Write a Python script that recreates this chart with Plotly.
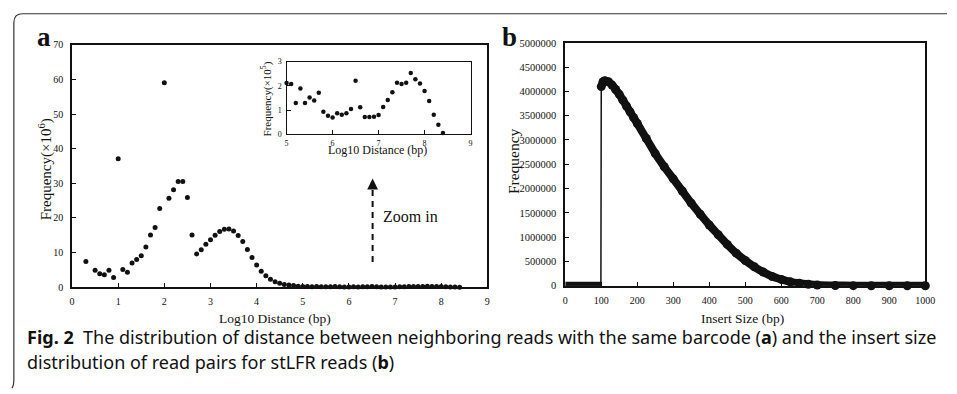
import plotly.graph_objects as go

W, H = 957, 394

# ---------------- data: panel a (main) ----------------
dist_x = [0.3, 0.5, 0.6, 0.7, 0.8, 0.9, 1.0, 1.1, 1.2, 1.3, 1.4, 1.5, 1.6, 1.7, 1.8, 1.9,
          2.0, 2.1, 2.2, 2.3, 2.4, 2.5, 2.6, 2.7, 2.8, 2.9, 3.0, 3.1, 3.2, 3.3, 3.4, 3.5,
          3.6, 3.7, 3.8, 3.9, 4.0, 4.1, 4.2, 4.3, 4.4, 4.5, 4.6, 4.7, 4.8, 4.9]
dist_freq_e6 = [7.4, 4.9, 3.9, 3.6, 4.9, 2.8, 37.1, 5.1, 4.3, 7.0, 8.0, 9.1, 11.6, 15.1, 17.2, 22.7,
                59.0, 25.7, 28.1, 30.5, 30.5, 25.9, 15.1, 9.6, 10.8, 12.4, 13.7, 15.0, 16.1, 16.7, 16.8, 16.2,
                14.9, 13.2, 10.9, 8.6, 6.4, 4.6, 3.3, 2.3, 1.6, 1.1, 0.8, 0.6, 0.45, 0.3]

# ---------------- data: panel a (inset, x10^5) ----------------
inset_x = [5.0, 5.1, 5.2, 5.3, 5.4, 5.5, 5.6, 5.7, 5.8, 5.9, 6.0, 6.1, 6.2, 6.3, 6.4, 6.5, 6.6, 6.7,
           6.8, 6.9, 7.0, 7.1, 7.2, 7.3, 7.4, 7.5, 7.6, 7.7, 7.8, 7.9, 8.0, 8.1, 8.2, 8.3, 8.4]
inset_freq_e5 = [2.12, 2.07, 1.29, 1.89, 1.29, 1.52, 1.39, 1.71, 0.93, 0.76, 0.69, 0.87, 0.81, 0.87,
                 1.04, 2.21, 1.11, 0.71, 0.71, 0.72, 0.79, 1.12, 1.41, 1.73, 2.13, 2.07, 2.13, 2.53,
                 2.27, 2.09, 1.79, 1.37, 0.80, 0.39, 0.05]

# ---------------- data: panel b ----------------
insert_x = [0, 25, 50, 75, 99, 100, 105, 110, 120, 130, 140, 150, 160, 170, 180, 190, 200, 225, 250,
            275, 300, 325, 350, 375, 400, 425, 450, 475, 500, 525, 550, 575, 600, 625, 650, 675,
            700, 750, 800, 850, 900, 950, 1000]
insert_freq = [0, 0, 0, 0, 0, 4100000, 4200000, 4220000, 4200000, 4130000, 4040000, 3940000, 3820000,
               3700000, 3580000, 3460000, 3340000, 3030000, 2720000, 2450000, 2200000, 1950000,
               1700000, 1470000, 1250000, 1050000, 850000, 670000, 520000, 390000, 280000, 190000,
               130000, 80000, 50000, 30000, 15000, 4000, 1000, 0, 0, 0, 0]

a_xticks = [0, 1, 2, 3, 4, 5, 6, 7, 8, 9]
a_yticks = [0, 10, 20, 30, 40, 50, 60, 70]
inset_xticks = [5, 6, 7, 8, 9]
inset_yticks = [0, 1, 2, 3]
b_xticks = list(range(0, 1001, 100))
b_yticks = list(range(0, 5000001, 500000))

# combine main series (inset values converted from x10^5 to x10^6)
main_x = dist_x + inset_x
main_y = dist_freq_e6 + [v / 10 for v in inset_freq_e5]


def px(x):
    return x / W


def py(y):
    return 1 - y / H


SERIF = "Liberation Serif, Times New Roman, serif"
BLACK = "#111111"

fig = go.Figure()

fig.add_trace(go.Scatter(x=main_x, y=main_y, mode="markers", xaxis="x", yaxis="y",
                         marker=dict(color=BLACK, size=5), cliponaxis=False, showlegend=False))
fig.add_trace(go.Scatter(x=inset_x, y=inset_freq_e5, mode="markers", xaxis="x2", yaxis="y2",
                         marker=dict(color=BLACK, size=4.5), cliponaxis=False, showlegend=False))

# panel b: thin connecting line (shows jump at 100), thick curve segments
fig.add_trace(go.Scatter(x=insert_x, y=insert_freq, mode="lines", xaxis="x3", yaxis="y3",
                         line=dict(color=BLACK, width=1.5), cliponaxis=False, showlegend=False))
zx = [x for x, y in zip(insert_x, insert_freq) if x < 100]
zy = [y for x, y in zip(insert_x, insert_freq) if x < 100]
cx = [x for x in insert_x if x >= 100]
cy = [y for x, y in zip(insert_x, insert_freq) if x >= 100]
fig.add_trace(go.Scatter(x=zx, y=zy, mode="lines", xaxis="x3", yaxis="y3",
                         line=dict(color=BLACK, width=8),
                         cliponaxis=False, showlegend=False))
fig.add_trace(go.Scatter(x=cx, y=cy, mode="lines+markers", xaxis="x3", yaxis="y3",
                         line=dict(color=BLACK, width=8, shape="spline", smoothing=0.6),
                         marker=dict(color=BLACK, size=9),
                         cliponaxis=False, showlegend=False))

axis_common = dict(showline=True, mirror=True, linecolor=BLACK, showgrid=False, zeroline=False,
                   ticks="inside", tickcolor=BLACK, ticklen=4)

fig.update_layout(
    width=W, height=H, autosize=False,
    margin=dict(l=0, r=0, t=0, b=0),
    paper_bgcolor="white", plot_bgcolor="white",
    showlegend=False, hovermode=False,
    xaxis=dict(domain=[px(70), px(491)], range=[0, 9], tickvals=a_xticks, anchor="y",
               linewidth=1.6, ticklabelstandoff=4,
               tickfont=dict(family=SERIF, size=10, color=BLACK), **axis_common),
    yaxis=dict(domain=[py(290), py(40)], range=[0, 70], tickvals=a_yticks, anchor="x",
               linewidth=1.6, ticklabelstandoff=5,
               tickfont=dict(family=SERIF, size=10, color=BLACK), **axis_common),
    xaxis2=dict(domain=[px(287.5), px(474)], range=[5, 9], tickvals=inset_xticks, anchor="y2",
                linewidth=1.4, ticklabelstandoff=1,
                tickfont=dict(family=SERIF, size=8, color=BLACK), **axis_common),
    yaxis2=dict(domain=[py(132.3), py(57.3)], range=[0, 3], tickvals=inset_yticks, anchor="x2",
                linewidth=1.4, ticklabelstandoff=2,
                tickfont=dict(family=SERIF, size=8, color=BLACK), **axis_common),
    xaxis3=dict(domain=[px(570), px(935)], range=[0, 1000], tickvals=b_xticks, anchor="y3",
                linewidth=1.6, ticklabelstandoff=4,
                tickfont=dict(family=SERIF, size=10, color=BLACK), **axis_common),
    yaxis3=dict(domain=[py(288.5), py(38)], range=[0, 5000000], tickvals=b_yticks, anchor="x3",
                tickformat="d", linewidth=1.6, ticklabelstandoff=5,
                tickfont=dict(family=SERIF, size=10.5, color=BLACK), **axis_common),
)

ann = []


def text(x, y, s, size, family=SERIF, angle=0, xanchor="center", yanchor="middle", bold=False):
    ann.append(dict(x=px(x), y=py(y), xref="paper", yref="paper", text=(f"<b>{s}</b>" if bold else s),
                    showarrow=False, textangle=angle, xanchor=xanchor, yanchor=yanchor,
                    font=dict(family=family, size=size, color=BLACK)))


text(42, 32, "a", 27, bold=True)
text(513, 32, "b", 27, bold=True)
text(276, 322, "Log10 Distance (bp)", 13.5)
text(750, 322, "Insert Size (bp)", 13.5)
text(43, 168, "Frequency(×10<sup>6</sup>)", 15, angle=-90)
text(517, 160, "Frequency", 15.5, angle=-90)
text(267, 96, "Frequency(×10<sup>5</sup>)", 11, angle=-90)
text(380, 149, "Log10 Distance (bp)", 12)
text(383, 217, "Zoom in", 16, xanchor="left")

CAP = "Noto Sans, sans-serif"
text(22, 341, "<b>Fig. 2</b>  The distribution of distance between neighboring reads with the same barcode "
     "(<b>a</b>) and the insert size", 18, family=CAP, xanchor="left")
text(22, 367, "distribution of read pairs for stLFR reads (<b>b</b>)", 18, family=CAP, xanchor="left")

# arrowhead of "Zoom in"
ann.append(dict(x=px(374.7), y=py(178), ax=0, ay=12, xref="paper", yref="paper",
                axref="pixel", ayref="pixel", showarrow=True, arrowhead=2, arrowsize=1.2,
                arrowwidth=1.8, arrowcolor=BLACK, text=" ", font=dict(size=1)))

fig.update_layout(annotations=ann)

shapes = [
    dict(type="line", xref="paper", yref="paper", x0=px(374.7), x1=px(374.7), y0=py(264), y1=py(186),
         line=dict(color=BLACK, width=2, dash="6px,5px")),
    dict(type="path", xref="paper", yref="paper",
         path=f"M {px(957)},{py(8)} L {px(20)},{py(8)} Q {px(11)},{py(8)} {px(11)},{py(17)} "
              f"L {px(11)},{py(385)} Q {px(11)},{py(392)} {px(9)},{py(394)}",
         line=dict(color="#333333", width=1.2)),
]
fig.update_layout(shapes=shapes)

post = ("document.body.style.margin='0';document.body.style.padding='0';"
        "document.body.style.overflow='hidden';"
        "document.documentElement.style.overflow='hidden';"
        "var gd=document.getElementById('{plot_id}');"
        "gd.style.position='absolute';gd.style.left='0px';gd.style.top='0px';"
        "gd.style.width='957px';gd.style.height='394px';"
        "Plotly.relayout(gd,{width:957,height:394});")

fig.write_html("out.html",
               config={"displayModeBar": False, "responsive": False},
               post_script=post)
